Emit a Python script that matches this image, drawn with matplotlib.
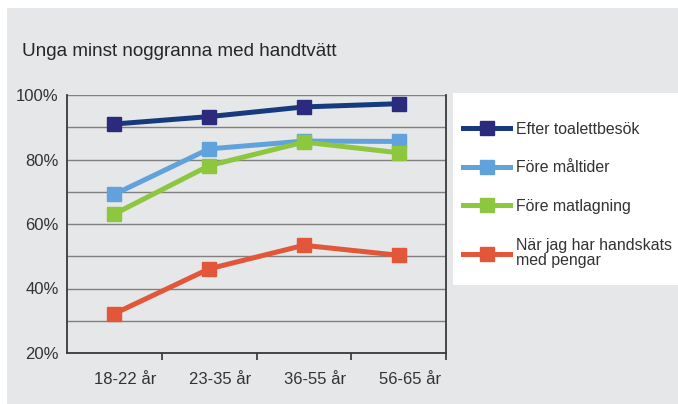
import matplotlib
matplotlib.use("Agg")
import matplotlib.pyplot as plt
from matplotlib.patches import Rectangle
from matplotlib.lines import Line2D
from matplotlib.transforms import ScaledTranslation

plt.rcParams['font.family'] = ['Liberation Sans', 'DejaVu Sans']

categories = ["18-22 år", "23-35 år", "36-55 år", "56-65 år"]
series_names = ["Efter toalettbesök", "Före måltider", "Före matlagning",
                "När jag har handskats\nmed pengar"]
efter_toalett = [91, 93.3, 96.3, 97.3]
fore_maltider = [69.2, 83.3, 85.7, 85.6]
fore_matlagning = [63.1, 78.1, 85.4, 82.1]
handskats_pengar = [32.2, 46.1, 53.4, 50.3]
yticks = [20, 40, 60, 80, 100]
ytick_labels = ["20%", "40%", "60%", "80%", "100%"]
title = "Unga minst noggranna med handtvätt"

values = [efter_toalett, fore_maltider, fore_matlagning, handskats_pengar]
line_colors = ["#173a7e", "#62a2dc", "#8dc63f", "#e2573a"]
marker_colors = ["#2c2a7c", "#62a2dc", "#8dc63f", "#e2573a"]

W, H = 678, 404
fig = plt.figure(figsize=(W / 100, H / 100), dpi=100)
fig.patch.set_facecolor("white")
bg = Rectangle((7 / W, 0), 1 - 7 / W, 1 - 8 / H, transform=fig.transFigure,
               facecolor="#e6e7e8", edgecolor="none", zorder=-10)
fig.patches.append(bg)

fig.text(22 / W, 1 - 51 / H, title, fontsize=13.6, color="#262626",
         va="center", ha="left")

ax = fig.add_axes([67 / W, 1 - 353 / H, (446 - 67) / W, (353 - 95) / H])
ax.set_facecolor("none")
x = list(range(len(categories)))
for vals, lc, mc in zip(values, line_colors, marker_colors):
    ax.plot(x, vals, color=lc, lw=3.6, marker="s", markersize=9.5,
            markerfacecolor=mc, markeredgecolor=mc, solid_capstyle="butt",
            zorder=3)

ax.set_xlim(-0.5, len(categories) - 0.5)
ax.set_ylim(20, 100)
ax.set_yticks(yticks)
ax.set_yticklabels(ytick_labels)
ax.set_yticks(list(range(30, 100, 20)), minor=True)
ax.grid(True, axis="y", which="both", color="#808080", lw=1.0)
ax.set_axisbelow(True)
ax.tick_params(axis="y", which="both", length=0, pad=6, labelsize=12,
               labelcolor="#333333")
ax.set_xticks(x)
ax.set_xticklabels(categories)
ax.set_xticks([i + 0.5 for i in x], minor=True)
ax.tick_params(axis="x", which="major", length=0, pad=14, labelsize=12,
               labelcolor="#333333")
ax.tick_params(axis="x", which="minor", length=5, width=1.2, color="#333333",
               direction="out")
shift = ScaledTranslation(11 / 100, 0, fig.dpi_scale_trans)
for lbl in ax.get_xticklabels():
    lbl.set_transform(lbl.get_transform() + shift)
for s in ["left", "bottom", "right"]:
    ax.spines[s].set_color("#3a3a3a")
    ax.spines[s].set_linewidth(1.3)
ax.spines["top"].set_visible(False)

# legend panel
lax = fig.add_axes([453 / W, 1 - 285 / H, (W - 453) / W, (285 - 93) / H])
lax.set_facecolor("white")
lax.set_xticks([])
lax.set_yticks([])
for s in lax.spines.values():
    s.set_visible(False)
handles = [Line2D([], [], color=lc, lw=3.6, marker="s", markersize=9.5,
                  markerfacecolor=mc, markeredgecolor=mc)
           for lc, mc in zip(line_colors, marker_colors)]
leg = lax.legend(handles, series_names, loc="upper left",
                 bbox_to_anchor=(0, 0.905), frameon=False, fontsize=11.4,
                 handlelength=2.95, handletextpad=0.38, labelspacing=1.5,
                 borderaxespad=0.25)
for t in leg.get_texts():
    t.set_color("#333333")
    t.set_linespacing(1.05)

fig.savefig("out.png", dpi=100)
